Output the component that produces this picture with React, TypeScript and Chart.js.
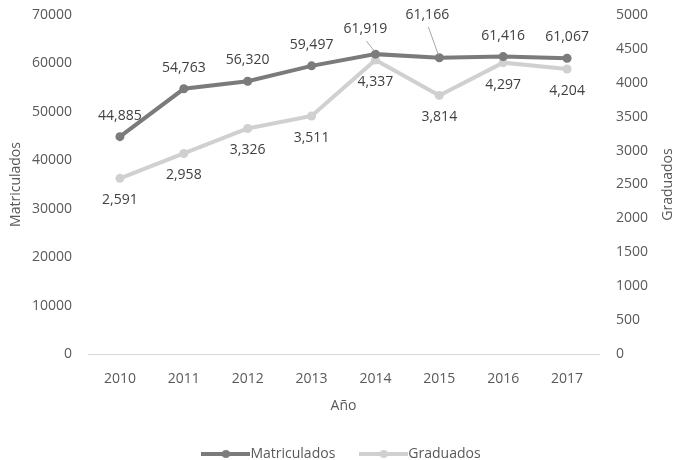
import { useEffect, useRef } from 'react';
import { Chart, registerables } from 'chart.js';

Chart.register(...registerables);

// ---- Data ----
const years = ['2010', '2011', '2012', '2013', '2014', '2015', '2016', '2017'];
const matriculados = [44885, 54763, 56320, 59497, 61919, 61166, 61416, 61067];
const graduados = [2591, 2958, 3326, 3511, 4337, 3814, 4297, 4204];
const leftAxisMax = 70000;
const leftAxisStep = 10000;
const rightAxisMax = 5000;
const rightAxisStep = 500;
const seriesNames = ['Matriculados', 'Graduados'];
const axisTitles = { x: 'Año', left: 'Matriculados', right: 'Graduados' };

// ---- Styles ----
const DARK = '#7b7b7b';
const LIGHT = '#d0d0d0';
const TICK_COLOR = '#595959';
const LABEL_COLOR = '#404040';
const FONT = "'Open Sans', sans-serif";

// label placement (pixel offsets from the point, not data)
const labelPlacement: { dx: number; dy: number; leader?: boolean }[][] = [
  [
    { dx: 0, dy: -21 }, { dx: 0, dy: -21 }, { dx: 0, dy: -21 }, { dx: 0, dy: -21 },
    { dx: -10, dy: -25, leader: true }, { dx: -12, dy: -43, leader: true },
    { dx: 0, dy: -21 }, { dx: 0, dy: -21 },
  ],
  [
    { dx: 0, dy: 22 }, { dx: 0, dy: 22 }, { dx: 0, dy: 22 }, { dx: 0, dy: 22 },
    { dx: 0, dy: 22 }, { dx: 0, dy: 22 }, { dx: 0, dy: 22 }, { dx: 0, dy: 22 },
  ],
];

const LEGEND_BOX = 35;
const LEGEND_GAP = 7; // = half of legend font size

function legendMarker(color: string) {
  const c = document.createElement('canvas');
  const w = LEGEND_BOX + LEGEND_GAP * 2;
  c.width = w;
  c.height = 10;
  const g = c.getContext('2d')!;
  g.strokeStyle = color;
  g.lineWidth = 4;
  g.beginPath();
  g.moveTo(0, 5);
  g.lineTo(w, 5);
  g.stroke();
  g.fillStyle = color;
  g.beginPath();
  g.arc(w / 2, 5, 4, 0, Math.PI * 2);
  g.fill();
  return c;
}

const valueLabels = {
  id: 'valueLabels',
  afterDatasetsDraw(chart: any) {
    const ctx = chart.ctx as CanvasRenderingContext2D;
    ctx.save();
    ctx.font = `14px ${FONT}`;
    ctx.fillStyle = LABEL_COLOR;
    ctx.textAlign = 'center';
    ctx.textBaseline = 'middle';
    chart.data.datasets.forEach((ds: any, di: number) => {
      const meta = chart.getDatasetMeta(di);
      meta.data.forEach((pt: any, i: number) => {
        const p = labelPlacement[di][i];
        const lx = pt.x + p.dx;
        const ly = pt.y + p.dy;
        if (p.leader) {
          ctx.save();
          ctx.strokeStyle = '#a6a6a6';
          ctx.lineWidth = 1;
          ctx.beginPath();
          ctx.moveTo(lx + 1, ly + 12);
          ctx.lineTo(pt.x - 1, pt.y - 3);
          ctx.stroke();
          ctx.restore();
        }
        ctx.fillText(Number(ds.data[i]).toLocaleString('en-US'), lx, ly);
      });
    });
    ctx.restore();
  },
};

const axisTitlesPlugin = {
  id: 'axisTitles',
  afterDraw(chart: any) {
    const ctx = chart.ctx as CanvasRenderingContext2D;
    const a = chart.chartArea;
    const midY = (a.top + a.bottom) / 2;
    ctx.save();
    ctx.font = `14px ${FONT}`;
    ctx.fillStyle = TICK_COLOR;
    ctx.textAlign = 'center';
    ctx.textBaseline = 'middle';
    ctx.fillText(axisTitles.x, (a.left + a.right) / 2, a.bottom + 52);
    ctx.save();
    ctx.translate(16, midY);
    ctx.rotate(-Math.PI / 2);
    ctx.fillText(axisTitles.left, 0, 0);
    ctx.restore();
    ctx.save();
    ctx.translate(chart.width - 8, midY);
    ctx.rotate(-Math.PI / 2);
    ctx.fillText(axisTitles.right, 0, 0);
    ctx.restore();
    ctx.restore();
  },
};

export default function App() {
  const ref = useRef<HTMLCanvasElement>(null);
  useEffect(() => {
    if (!ref.current) return;
    Chart.defaults.font.family = FONT;
    const markers = [legendMarker(DARK), legendMarker(LIGHT)];
    const chart = new Chart(ref.current, {
      type: 'line',
      data: {
        labels: years,
        datasets: [
          {
            label: seriesNames[0],
            data: matriculados,
            yAxisID: 'y',
            borderColor: DARK,
            backgroundColor: DARK,
            borderWidth: 4,
            pointRadius: 4.5,
            pointHoverRadius: 4.5,
            pointBorderWidth: 0,
            tension: 0,
          },
          {
            label: seriesNames[1],
            data: graduados,
            yAxisID: 'y1',
            borderColor: LIGHT,
            backgroundColor: LIGHT,
            borderWidth: 4,
            pointRadius: 4.5,
            pointHoverRadius: 4.5,
            pointBorderWidth: 0,
            tension: 0,
          },
        ],
      },
      options: {
        animation: false,
        responsive: false,
        devicePixelRatio: 1,
        layout: { padding: { top: 15, left: 13, right: 0, bottom: -11 } },
        scales: {
          x: {
            offset: true,
            grid: { display: false, drawTicks: false, offset: true },
            border: { display: true, color: '#d9d9d9', width: 1 },
            ticks: { color: TICK_COLOR, font: { size: 14 }, padding: 17 },
            afterFit: (s: any) => { s.height = 62; },
          },
          y: {
            position: 'left',
            min: 0,
            max: leftAxisMax,
            grid: { display: false, drawTicks: false },
            border: { display: false },
            ticks: { stepSize: leftAxisStep, color: TICK_COLOR, font: { size: 14 }, padding: 16, callback: (v: any) => String(v) },
            afterFit: (s: any) => { s.width = 75; s.paddingTop = 8; s.paddingBottom = 8; },
          },
          y1: {
            position: 'right',
            min: 0,
            max: rightAxisMax,
            grid: { display: false, drawTicks: false },
            border: { display: false },
            ticks: { stepSize: rightAxisStep, color: TICK_COLOR, font: { size: 14 }, padding: 17, callback: (v: any) => String(v) },
            afterFit: (s: any) => { s.width = 77; s.paddingTop = 8; s.paddingBottom = 8; },
          },
        },
        plugins: {
          tooltip: { enabled: false },
          legend: {
            position: 'bottom',
            labels: {
              color: TICK_COLOR,
              font: { size: 14 },
              usePointStyle: true,
              pointStyleWidth: LEGEND_BOX,
              padding: 31,
              generateLabels: (c: any) => {
                const items = (Chart.defaults.plugins.legend.labels as any).generateLabels(c);
                return items.map((it: any, i: number) => ({ ...it, pointStyle: markers[i] }));
              },
            },
          },
        },
      },
      plugins: [valueLabels, axisTitlesPlugin],
    } as any);
    return () => chart.destroy();
  }, []);
  return (
    <div style={{ position: 'fixed', left: 0, top: 0, width: 676, height: 460, background: '#fff' }}>
      <canvas ref={ref} width={676} height={460} style={{ display: 'block' }} />
    </div>
  );
}
